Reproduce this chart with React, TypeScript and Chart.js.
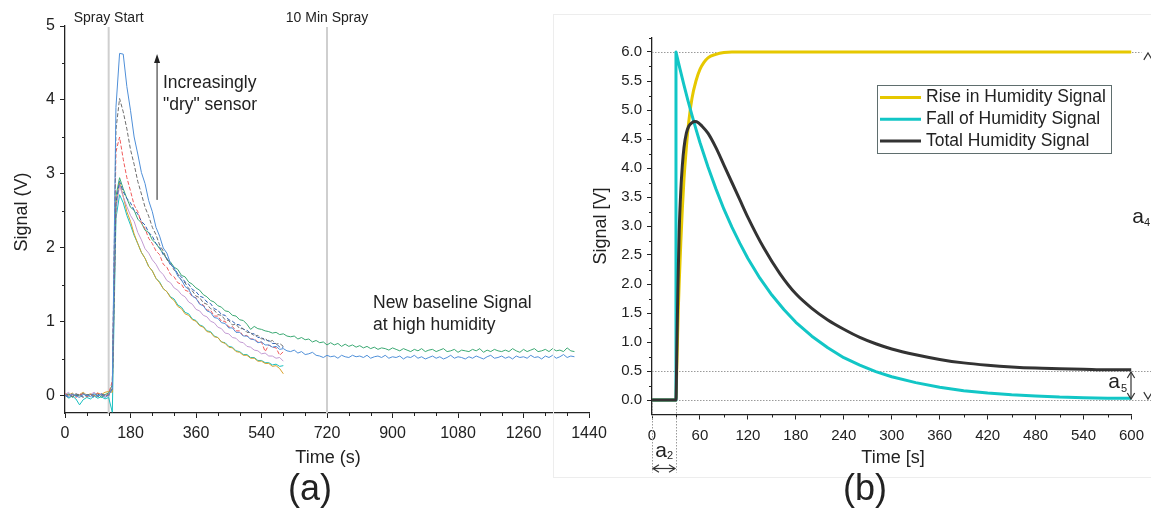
import React, { useEffect, useRef } from "react";
import { Chart, registerables } from "chart.js";
Chart.register(...registerables);

const FONT = "'Liberation Sans', Arial, Helvetica, sans-serif";

// ---------------- Panel (a): measured sensor signals ----------------
const timesShortA = Array.from({ length: 61 }, (_, i) => i * 10);
const timesLongA = Array.from({ length: 141 }, (_, i) => i * 10);

const blueA = [
  0.02, -0.01, 0.03, 0.0, -0.02, 0.02, 0.01, -0.01, 0.03, 0.0, 0.02, -0.02, 0.01,
  0.1, 3.9, 4.63, 4.62, 4.18, 3.86, 3.5, 3.27, 3.02, 2.87,
  2.64, 2.49, 2.28, 2.16, 2.0, 1.93, 1.79, 1.73, 1.62, 1.57,
  1.48, 1.44, 1.35, 1.32, 1.24, 1.22, 1.15, 1.13, 1.06, 1.05,
  0.99, 0.98, 0.92, 0.92, 0.86, 0.86, 0.81, 0.81, 0.77, 0.76,
  0.72, 0.73, 0.69, 0.69, 0.66, 0.67, 0.63, 0.64,
  0.61, 0.6, 0.62, 0.58, 0.6, 0.56, 0.57, 0.59, 0.55, 0.54,
  0.52, 0.55, 0.53, 0.54, 0.51, 0.55, 0.53, 0.52, 0.55, 0.53,
  0.54, 0.52, 0.55, 0.51, 0.53, 0.54, 0.52, 0.55, 0.51, 0.53,
  0.52, 0.54, 0.5, 0.53, 0.52, 0.55, 0.51, 0.53, 0.5, 0.52,
  0.54, 0.51, 0.53, 0.5, 0.52, 0.55, 0.51, 0.53, 0.52, 0.5,
  0.53, 0.51, 0.54, 0.52, 0.5, 0.53, 0.55, 0.51, 0.52, 0.54,
  0.51, 0.53, 0.5, 0.54, 0.52, 0.53, 0.51, 0.55, 0.52, 0.53,
  0.5, 0.54, 0.52, 0.55, 0.51, 0.53, 0.56, 0.52, 0.54, 0.53,
];

const greenA = [
  0.01, 0.03, -0.02, 0.02, 0.0, 0.04, -0.01, 0.02, 0.01, 0.03, -0.02, 0.02, 0.04,
  0.15, 2.7, 2.95, 2.8, 2.67, 2.55, 2.51, 2.39, 2.34, 2.24,
  2.21, 2.11, 2.06, 1.99, 1.93, 1.85, 1.81, 1.74, 1.71, 1.63,
  1.61, 1.54, 1.51, 1.46, 1.43, 1.37, 1.34, 1.29, 1.27, 1.22,
  1.2, 1.15, 1.14, 1.09, 1.08, 1.03, 1.02, 0.97, 0.9, 0.94,
  0.91, 0.9, 0.88, 0.87, 0.85, 0.86, 0.83, 0.84,
  0.81, 0.8, 0.81, 0.77, 0.79, 0.76, 0.77, 0.73, 0.75, 0.72,
  0.73, 0.69, 0.72, 0.69, 0.71, 0.67, 0.7, 0.67, 0.69, 0.66,
  0.68, 0.65, 0.67, 0.64, 0.66, 0.63, 0.65, 0.64, 0.62, 0.65,
  0.63, 0.61, 0.64, 0.62, 0.6, 0.63, 0.61, 0.64, 0.6, 0.62,
  0.63, 0.6, 0.62, 0.64, 0.6, 0.61, 0.63, 0.59, 0.62, 0.61,
  0.6, 0.63, 0.61, 0.64, 0.59, 0.62, 0.6, 0.63, 0.61, 0.6,
  0.62, 0.6, 0.64, 0.61, 0.59, 0.63, 0.6, 0.62, 0.64, 0.6,
  0.61, 0.63, 0.6, 0.64, 0.61, 0.62, 0.6, 0.65, 0.61, 0.6,
];

const grayA = [
  0.0, 0.02, -0.01, 0.03, 0.01, -0.02, 0.02, 0.0, 0.03, -0.01, 0.01, 0.02, 0.0,
  0.1, 3.6, 4.02, 3.84, 3.61, 3.33, 3.13, 2.9, 2.73, 2.55,
  2.43, 2.28, 2.18, 2.04, 1.96, 1.84, 1.79, 1.7, 1.65, 1.56,
  1.53, 1.45, 1.42, 1.35, 1.33, 1.26, 1.24, 1.18, 1.16, 1.1,
  1.09, 1.03, 1.02, 0.96, 0.97, 0.91, 0.91, 0.86, 0.86, 0.81,
  0.82, 0.77, 0.78, 0.73, 0.75, 0.7, 0.71, 0.67,
];

const redA = [
  0.03, 0.0, 0.02, -0.02, 0.01, 0.03, -0.01, 0.02, 0.0, 0.04, 0.01, -0.01, 0.03,
  0.2, 3.3, 3.5, 3.2, 2.95, 2.77, 2.58, 2.49, 2.34, 2.26,
  2.13, 2.06, 1.96, 1.91, 1.78, 1.74, 1.64, 1.61, 1.53, 1.51,
  1.43, 1.41, 1.34, 1.33, 1.25, 1.23, 1.16, 1.16, 1.08, 1.08,
  1.01, 1.01, 0.93, 0.94, 0.88, 0.88, 0.81, 0.82, 0.77, 0.77,
  0.73, 0.73, 0.6, 0.69, 0.66, 0.65, 0.55, 0.6,
];

const darkBlueA = [
  0.01, -0.02, 0.02, 0.0, 0.03, -0.01, 0.01, 0.02, -0.02, 0.01, 0.03, 0.0, 0.02,
  0.1, 2.6, 2.9, 2.76, 2.67, 2.61, 2.51, 2.46, 2.36, 2.31,
  2.21, 2.16, 2.06, 2.01, 1.91, 1.86, 1.77, 1.73, 1.65, 1.61,
  1.54, 1.51, 1.44, 1.41, 1.35, 1.33, 1.27, 1.25, 1.18, 1.16,
  1.1, 1.09, 1.03, 1.01, 0.97, 0.96, 0.9, 0.89, 0.84, 0.84,
  0.79, 0.79, 0.75, 0.75, 0.71, 0.71, 0.66, 0.66,
];

const purpleA = [
  0.02, 0.05, -0.01, 0.03, 0.01, 0.04, 0.0, 0.02, 0.05, 0.01, 0.03, 0.0, 0.02,
  0.1, 2.5, 2.85, 2.69, 2.56, 2.44, 2.36, 2.21, 2.11, 1.99,
  1.93, 1.84, 1.78, 1.69, 1.64, 1.56, 1.53, 1.46, 1.43, 1.37,
  1.34, 1.27, 1.24, 1.17, 1.15, 1.09, 1.07, 1.01, 0.99, 0.93,
  0.91, 0.85, 0.84, 0.79, 0.78, 0.73, 0.72, 0.67, 0.66, 0.62,
  0.61, 0.57, 0.58, 0.54, 0.54, 0.51, 0.52, 0.47,
];

const orangeA = [
  0.03, 0.01, 0.04, 0.0, 0.02, 0.05, 0.01, 0.03, 0.0, 0.04, 0.02, 0.05, 0.06,
  0.05, 2.6, 2.88, 2.7, 2.49, 2.36, 2.19, 2.06, 1.94, 1.86,
  1.75, 1.69, 1.59, 1.53, 1.45, 1.41, 1.33, 1.29, 1.21, 1.18,
  1.11, 1.09, 1.03, 1.01, 0.95, 0.93, 0.87, 0.86, 0.8, 0.79,
  0.73, 0.71, 0.66, 0.65, 0.6, 0.59, 0.55, 0.55, 0.51, 0.51,
  0.47, 0.47, 0.44, 0.44, 0.4, 0.41, 0.37, 0.3,
];

const cyanA = [
  0.02, -0.03, 0.0, -0.04, -0.12, -0.05, -0.02, -0.04, 0.0, -0.03, -0.01, -0.04, -0.02,
  -0.22, 2.4, 2.72, 2.61, 2.44, 2.31, 2.17, 2.06, 1.94, 1.86,
  1.75, 1.69, 1.59, 1.54, 1.45, 1.41, 1.34, 1.31, 1.23, 1.2,
  1.13, 1.11, 1.04, 1.02, 0.96, 0.94, 0.88, 0.87, 0.81, 0.79,
  0.73, 0.72, 0.67, 0.66, 0.61, 0.6, 0.56, 0.56, 0.52, 0.52,
  0.48, 0.48, 0.45, 0.45, 0.42, 0.43, 0.4, 0.41,
];

const xTicksA = [0, 180, 360, 540, 720, 900, 1080, 1260, 1440];
const xMinorA = [60, 120, 240, 300, 420, 480, 600, 660, 780, 840, 960, 1020, 1140, 1200, 1320, 1380];
const yTicksA = [0, 1, 2, 3, 4, 5];
const yMinorA = [0.5, 1.5, 2.5, 3.5, 4.5];
const markerTimesA = [120, 720];
const markerLabelsA = ["Spray Start", "10 Min Spray"];

// ---------------- Panel (b): model signals ----------------
const riseT = [0, 30, 31, 32, 33, 34, 36, 38, 40, 43, 46, 50, 55, 60, 65, 70, 80, 90, 100, 150, 300, 450, 600];
const riseV = [0, 0, 0.55, 1.1, 1.6, 2.0, 2.7, 3.3, 3.8, 4.35, 4.8, 5.2, 5.5, 5.7, 5.82, 5.9, 5.96, 5.99, 6.0, 6.0, 6.0, 6.0, 6.0];
const fallT = [0, 29.9, 30, 35, 40, 45, 50, 55, 60, 70, 80, 90, 100, 110, 120, 135, 150, 165, 180, 200, 220, 240, 260, 280, 300, 330, 360, 390, 420, 450, 480, 510, 540, 570, 600];
const fallV = [0, 0, 6.0, 5.71, 5.43, 5.16, 4.91, 4.67, 4.44, 4.02, 3.64, 3.29, 2.98, 2.7, 2.44, 2.1, 1.81, 1.56, 1.34, 1.1, 0.9, 0.73, 0.6, 0.49, 0.4, 0.3, 0.22, 0.16, 0.12, 0.09, 0.07, 0.05, 0.04, 0.03, 0.03];
const totalT = [0, 30, 31, 32, 33, 34, 36, 38, 40, 43, 46, 50, 54, 58, 62, 70, 80, 90, 100, 110, 120, 140, 160, 180, 200, 220, 240, 260, 280, 300, 330, 360, 390, 420, 450, 480, 510, 540, 570, 600];
const totalV = [0, 0, 0.8, 1.6, 2.3, 2.9, 3.6, 4.05, 4.35, 4.6, 4.72, 4.78, 4.8, 4.78, 4.73, 4.6, 4.35, 4.05, 3.75, 3.45, 3.15, 2.62, 2.18, 1.83, 1.58, 1.38, 1.22, 1.08, 0.97, 0.88, 0.78, 0.7, 0.64, 0.6, 0.57, 0.55, 0.54, 0.53, 0.52, 0.52];

const legendLabelsB = ["Rise in Humidity Signal", "Fall of Humidity Signal", "Total Humidity Signal"];
const colorsB = ["#e6c800", "#12c6c6", "#333333"];
const xTicksB = [0, 60, 120, 180, 240, 300, 360, 420, 480, 540, 600];
const xMinorB = [30, 90, 150, 210, 270, 330, 390, 450, 510, 570];
const yTicksB = [0, 0.5, 1, 1.5, 2, 2.5, 3, 3.5, 4, 4.5, 5, 5.5, 6];
const yMinorB = [0.25, 0.75, 1.25, 1.75, 2.25, 2.75, 3.25, 3.75, 4.25, 4.75, 5.25, 5.75, 6.25];
const refLevelsB = [6, 0.5, 0];

// ---------------- helpers ----------------
function txt(ctx: CanvasRenderingContext2D, s: string, x: number, y: number, size: number, align: CanvasTextAlign = "center", rot = 0, color = "#222") {
  ctx.save();
  ctx.font = `${size}px ${FONT}`;
  ctx.fillStyle = color;
  ctx.textAlign = align;
  ctx.textBaseline = "middle";
  ctx.translate(x, y);
  if (rot) ctx.rotate(rot);
  ctx.fillText(s, 0, 0);
  ctx.restore();
}
function seg(ctx: CanvasRenderingContext2D, x1: number, y1: number, x2: number, y2: number) {
  ctx.beginPath();
  ctx.moveTo(x1, y1);
  ctx.lineTo(x2, y2);
  ctx.stroke();
}
function openHead(ctx: CanvasRenderingContext2D, x: number, y: number, ang: number, size: number) {
  ctx.beginPath();
  ctx.moveTo(x - size * Math.cos(ang - 0.55), y - size * Math.sin(ang - 0.55));
  ctx.lineTo(x, y);
  ctx.lineTo(x - size * Math.cos(ang + 0.55), y - size * Math.sin(ang + 0.55));
  ctx.stroke();
}
function minorTicks(ctx: CanvasRenderingContext2D, chart: any, xs: number[], ys: number[], len: number) {
  const { chartArea: ca, scales } = chart;
  ctx.save();
  ctx.strokeStyle = "#222";
  ctx.lineWidth = 1;
  xs.forEach((v) => {
    const px = Math.round(scales.x.getPixelForValue(v)) + 0.5;
    seg(ctx, px, ca.bottom, px, ca.bottom + len);
  });
  ys.forEach((v) => {
    const py = Math.round(scales.y.getPixelForValue(v)) + 0.5;
    seg(ctx, ca.left - len, py, ca.left, py);
  });
  ctx.restore();
}

const axisCommon = (size: number) => ({
  ticks: { color: "#222", font: { family: FONT, size }, maxRotation: 0, autoSkip: false },
  grid: { drawOnChartArea: false, drawTicks: true, tickLength: 5, tickColor: "#222", tickWidth: 1 },
  border: { display: true, color: "#222", width: 1.3 },
});

const annotA = {
  id: "annotA",
  beforeDatasetsDraw(chart: any) {
    const { ctx, chartArea: ca, scales } = chart;
    ctx.save();
    ctx.strokeStyle = "#cfcfcf";
    ctx.lineWidth = 2;
    markerTimesA.forEach((t) => {
      const px = scales.x.getPixelForValue(t);
      seg(ctx, px, ca.top + 1, px, ca.bottom);
    });
    ctx.restore();
  },
  afterDraw(chart: any) {
    const { ctx, scales } = chart;
    minorTicks(ctx, chart, xMinorA, yMinorA, 3);
    markerTimesA.forEach((t, i) => txt(ctx, markerLabelsA[i], scales.x.getPixelForValue(t), 18, 14));
    txt(ctx, "Increasingly", 163, 83, 17.5, "left");
    txt(ctx, '"dry" sensor', 163, 105, 17.5, "left");
    txt(ctx, "New baseline Signal", 373, 303, 17.5, "left");
    txt(ctx, "at high humidity", 373, 325, 17.5, "left");
    // arrow
    const ax = scales.x.getPixelForValue(253);
    const y1 = scales.y.getPixelForValue(2.65);
    const y2 = scales.y.getPixelForValue(4.62);
    ctx.save();
    ctx.strokeStyle = "#222";
    ctx.fillStyle = "#222";
    ctx.lineWidth = 1;
    seg(ctx, ax, y1, ax, y2 + 6);
    ctx.beginPath();
    ctx.moveTo(ax, y2);
    ctx.lineTo(ax - 3, y2 + 9);
    ctx.lineTo(ax + 3, y2 + 9);
    ctx.closePath();
    ctx.fill();
    ctx.restore();
    txt(ctx, "Signal (V)", 22, 212, 18, "center", -Math.PI / 2);
    txt(ctx, "Time (s)", 328, 458, 18);
    txt(ctx, "(a)", 310, 490, 36);
  },
};

const annotB = {
  id: "annotB",
  beforeDatasetsDraw(chart: any) {
    const { ctx, chartArea: ca, scales, width } = chart;
    ctx.save();
    ctx.strokeStyle = "#9a9a9a";
    ctx.lineWidth = 1;
    ctx.setLineDash([1.5, 1.5]);
    refLevelsB.forEach((v, i) => {
      const py = Math.round(scales.y.getPixelForValue(v)) + 0.5;
      seg(ctx, ca.left, py, i === 0 ? ca.right + 10 : width, py);
    });
    [0, 30].forEach((t) => {
      const px = Math.round(scales.x.getPixelForValue(t)) + 0.5;
      seg(ctx, px, scales.y.getPixelForValue(0), px, ca.bottom + 58);
    });
    ctx.restore();
  },
  afterDraw(chart: any) {
    const { ctx, chartArea: ca, scales, width } = chart;
    minorTicks(ctx, chart, xMinorB, yMinorB, 3);
    // faint frame
    ctx.save();
    ctx.strokeStyle = "#ededed";
    ctx.lineWidth = 1;
    ctx.strokeRect(0.5, 14.5, width, 463);
    ctx.restore();
    // legend
    ctx.save();
    ctx.strokeStyle = "#5f6e6e";
    ctx.lineWidth = 1;
    ctx.strokeRect(324.5, 85.5, 234, 68);
    legendLabelsB.forEach((l, i) => {
      const yy = 97.5 + i * 21.8;
      ctx.strokeStyle = colorsB[i];
      ctx.lineWidth = 3;
      seg(ctx, 327, yy, 368, yy);
      txt(ctx, l, 373, yy, 17.5, "left");
    });
    ctx.restore();
    // a4
    txt(ctx, "a", 585, 217, 21);
    txt(ctx, "4", 594, 223, 11);
    ctx.save();
    ctx.strokeStyle = "#333";
    ctx.lineWidth = 1.2;
    openHead(ctx, 595, scales.y.getPixelForValue(6) + 1, -Math.PI / 2, 8);
    openHead(ctx, 595, scales.y.getPixelForValue(0) - 1, Math.PI / 2, 8);
    // a5
    const ax = 578;
    const ya = scales.y.getPixelForValue(0.5);
    const yb = scales.y.getPixelForValue(0);
    seg(ctx, ax, ya + 1, ax, yb - 1);
    openHead(ctx, ax, ya + 1, -Math.PI / 2, 7);
    openHead(ctx, ax, yb - 1, Math.PI / 2, 7);
    // a2
    const xa = scales.x.getPixelForValue(0);
    const xb = scales.x.getPixelForValue(30);
    const yy = ca.bottom + 54;
    seg(ctx, xa + 1, yy, xb - 1, yy);
    openHead(ctx, xa + 1, yy, Math.PI, 7);
    openHead(ctx, xb - 1, yy, 0, 7);
    ctx.restore();
    txt(ctx, "a", 561, 382, 21);
    txt(ctx, "5", 571, 389, 11);
    txt(ctx, "a", 108, 451, 21);
    txt(ctx, "2", 117, 456, 11);
    txt(ctx, "Signal [V]", 48, 226, 18, "center", -Math.PI / 2);
    txt(ctx, "Time [s]", 340, 458, 18);
    txt(ctx, "(b)", 312, 490, 36);
  },
};

export default function App() {
  const refA = useRef<HTMLCanvasElement>(null);
  const refB = useRef<HTMLCanvasElement>(null);

  useEffect(() => {
    document.body.style.margin = "0";
    const mk = (t: number[], v: number[]) => t.map((x, i) => ({ x, y: v[i] }));
    const lineA = (label: string, t: number[], v: number[], color: string, dash: number[] = []) => ({
      label,
      data: mk(t, v),
      borderColor: color,
      borderWidth: 1,
      borderDash: dash,
      pointRadius: 0,
      tension: 0,
      fill: false,
    });
    const cA = axisCommon(16);
    const chartA = new Chart(refA.current!, {
      type: "line",
      data: {
        datasets: [
          lineA("Sensor 1", timesLongA, blueA, "#4f8fd8"),
          lineA("Sensor 2", timesShortA, grayA, "#6e6e6e", [4, 2]),
          lineA("Sensor 3", timesShortA, redA, "#f05a5a", [4, 2]),
          lineA("Sensor 4", timesShortA, darkBlueA, "#2a5fb5", [4, 2]),
          lineA("Sensor 5", timesLongA, greenA, "#3aa872"),
          lineA("Sensor 6", timesShortA, purpleA, "#c39bd3"),
          lineA("Sensor 7", timesShortA, orangeA, "#d9a02a"),
          lineA("Sensor 8", timesShortA, cyanA, "#18c0c0"),
        ],
      },
      options: {
        responsive: false,
        animation: false,
        devicePixelRatio: 1,
        events: [],
        layout: { padding: { top: 26, right: 31, left: 0, bottom: 0 } },
        plugins: { legend: { display: false }, tooltip: { enabled: false } },
        scales: {
          x: {
            type: "linear",
            min: 0,
            max: 1440,
            afterFit: (s: any) => { s.height = 97; },
            afterBuildTicks: (s: any) => { s.ticks = xTicksA.map((value) => ({ value })); },
            ticks: { ...cA.ticks, padding: 6, callback: (v: any) => String(v) },
            grid: cA.grid,
            border: cA.border,
          },
          y: {
            type: "linear",
            min: -0.23,
            max: 5,
            afterFit: (s: any) => { s.width = 65; },
            afterBuildTicks: (s: any) => { s.ticks = yTicksA.map((value) => ({ value })); },
            ticks: { ...cA.ticks, padding: 5, callback: (v: any) => String(v) },
            grid: cA.grid,
            border: cA.border,
          },
        },
      },
      plugins: [annotA],
    } as any);

    const lineB = (label: string, t: number[], v: number[], color: string, order: number, smooth: boolean) => ({
      label,
      data: mk(t, v),
      borderColor: color,
      borderWidth: 3,
      borderJoinStyle: "round",
      pointRadius: 0,
      cubicInterpolationMode: smooth ? "monotone" : "default",
      tension: 0,
      fill: false,
      order,
    });
    const cB = axisCommon(15);
    const chartB = new Chart(refB.current!, {
      type: "line",
      data: {
        datasets: [
          lineB(legendLabelsB[0], riseT, riseV, colorsB[0], 3, true),
          lineB(legendLabelsB[1], fallT, fallV, colorsB[1], 2, false),
          lineB(legendLabelsB[2], totalT, totalV, colorsB[2], 1, true),
        ],
      },
      options: {
        responsive: false,
        animation: false,
        devicePixelRatio: 1,
        events: [],
        layout: { padding: { top: 37.5, right: 17, left: 0, bottom: 0 } },
        plugins: { legend: { display: false }, tooltip: { enabled: false } },
        scales: {
          x: {
            type: "linear",
            min: 0,
            max: 600,
            afterFit: (s: any) => { s.height = 95.5; },
            afterBuildTicks: (s: any) => { s.ticks = xTicksB.map((value) => ({ value })); },
            ticks: { ...cB.ticks, padding: 7, callback: (v: any) => String(v) },
            grid: cB.grid,
            border: cB.border,
          },
          y: {
            type: "linear",
            min: -0.25,
            max: 6.25,
            afterFit: (s: any) => { s.width = 99; },
            afterBuildTicks: (s: any) => { s.ticks = yTicksB.map((value) => ({ value })); },
            ticks: { ...cB.ticks, padding: 5, callback: (v: any) => Number(v).toFixed(1) },
            grid: cB.grid,
            border: cB.border,
          },
        },
      },
      plugins: [annotB],
    } as any);

    return () => {
      chartA.destroy();
      chartB.destroy();
    };
  }, []);

  return (
    <div style={{ position: "relative", width: 1151, height: 510, overflow: "hidden", background: "#fff" }}>
      <canvas ref={refA} width={620} height={510} style={{ position: "absolute", left: 0, top: 0, display: "block" }} />
      <canvas ref={refB} width={598} height={510} style={{ position: "absolute", left: 553, top: 0, display: "block" }} />
    </div>
  );
}
